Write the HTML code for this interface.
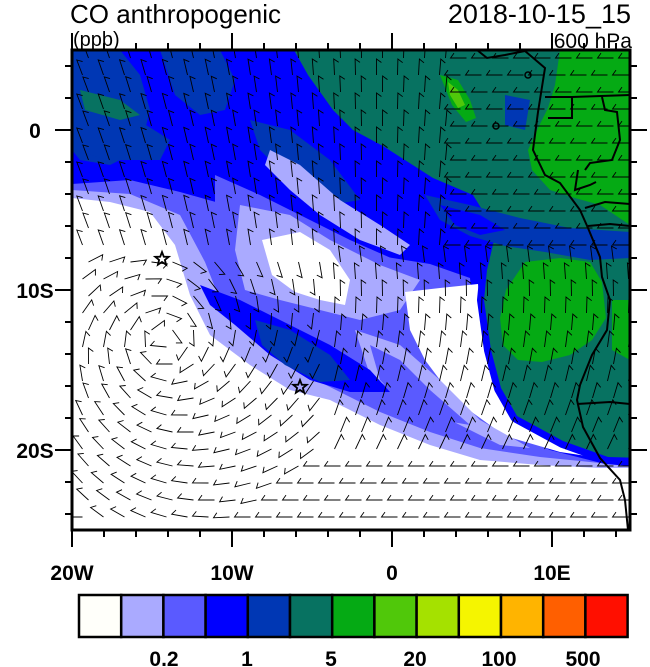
<!DOCTYPE html>
<html><head><meta charset="utf-8"><style>
body{margin:0;background:#fff;width:650px;height:667px;overflow:hidden}
svg{display:block}
text{font-family:"Liberation Sans",sans-serif}
</style></head><body>
<svg id="s" width="650" height="667" viewBox="0 0 650 667">
<defs><clipPath id="cp"><rect x="72" y="50" width="558" height="480"/></clipPath></defs>
<g clip-path="url(#cp)">
<rect x="72" y="50" width="558" height="480" fill="#fff"/>
<path fill="#aaaaff" d="M72,50 L630,50 L630,468 L600,468 L540,465 L480,460 L430,445 L380,425 L330,400 L290,390 L250,365 L210,335 L190,295 L175,245 L150,212 L110,202 L72,198Z"/>
<path fill="#5a5aff" d="M72,50 L630,50 L630,464 L600,463 L540,457 L480,448 L430,432 L380,412 L340,392 L300,372 L260,345 L222,305 L205,262 L180,215 L130,194 L72,190Z"/>
<path fill="#0000ff" d="M72,50 L630,50 L630,466 L605,464 L550,450 L500,428 L486,392 L476,350 L472,300 L470,278 L430,264 L380,256 L330,246 L280,226 L230,206 L180,192 L130,180 L72,184Z"/>
<path fill="#0037b4" d="M72,50 L120,50 L140,75 L150,110 L140,150 L110,165 L80,160 L72,150Z"/>
<path fill="#0037b4" d="M160,50 L220,50 L235,80 L225,110 L200,115 L175,95Z"/>
<path fill="#0037b4" d="M250,120 L290,130 L330,160 L360,200 L330,205 L290,180 L260,150Z"/>
<path fill="#aaaaff" d="M270,150 L300,165 L340,200 L380,225 L410,245 L400,255 L360,240 L320,215 L290,190 L265,165Z"/>
<path fill="#5a5aff" d="M215,175 L260,195 L300,215 L350,240 L400,262 L440,275 L430,300 L390,310 L340,300 L290,290 L240,285 L215,240Z"/>
<path fill="#aaaaff" d="M240,205 L290,215 L330,240 L380,265 L420,280 L400,310 L360,320 L320,310 L280,300 L245,290 L235,250Z"/>
<path fill="#fff" d="M262,240 L300,232 L330,250 L350,280 L345,305 L320,300 L295,292 L272,275Z"/>
<path fill="#fff" d="M405,292 L440,288 L478,284 L482,330 L494,378 L520,418 L570,444 L600,458 L560,452 L505,436 L455,400 L425,360 L410,330Z"/>
<path fill="#aaaaff" d="M355,330 L400,345 L440,380 L480,420 L530,448 L500,445 L450,420 L400,395 L370,375Z"/>
<path fill="#5a5aff" d="M370,345 L400,360 L430,390 L470,425 L440,420 L400,400 L380,380Z"/>
<path fill="#0000ff" d="M200,285 L240,300 L280,320 L330,345 L370,370 L390,392 L350,392 L310,380 L270,355 L235,325 L210,305Z"/>
<path fill="#0037b4" d="M255,320 L290,330 L330,355 L350,380 L320,382 L285,365 L262,345Z"/>
<path fill="#077261" stroke="#0000ff" stroke-width="14" paint-order="stroke" stroke-linejoin="round" d="M294,40 L294,50 L308,75 L333,110 L353,130 L383,146 L433,178 L473,195 L496,232 L487,270 L484,300 L491,350 L501,388 L517,416 L563,441 L608,457 L645,458 L645,40Z"/>
<path fill="#0037b4" d="M425,195 L470,205 L520,218 L570,228 L630,232 L630,258 L590,260 L545,252 L505,246 L470,236 L440,220Z"/>
<path fill="#0000ff" d="M440,205 L480,215 L505,230 L480,235 L455,225Z"/>
<path fill="#0037b4" d="M72,110 L130,115 L170,140 L160,160 L110,160 L72,150Z"/>
<path fill="#077261" d="M80,90 L120,100 L140,115 L120,120 L85,110Z"/>
<path fill="#0037b4" d="M505,95 L530,100 L525,130 L505,125Z"/>
<path fill="#05aa14" d="M560,50 L630,50 L630,225 L600,205 L575,198 L550,190 L532,170 L528,150 L538,128 L548,108 L555,85Z"/>
<path fill="#05aa14" d="M525,262 L560,258 L590,262 L602,282 L606,318 L592,340 L570,355 L542,362 L518,360 L503,345 L500,318 L506,290Z"/>
<path fill="#05aa14" d="M440,75 L458,80 L470,100 L476,118 L466,122 L452,105Z"/>
<path fill="#50c80a" d="M448,82 L458,90 L465,105 L458,108 L450,95Z"/>
<path fill="#05aa14" d="M612,300 L630,300 L630,360 L612,350Z"/>
<g fill="none" stroke="#000" stroke-width="2">
<path d="M477,50 L487,58 L505,55 L525,51 L545,68 L538,112 L533,150 L545,175 L560,183 L580,210 L588,228 L600,257 L602,277 L610,300 L607,330 L592,355 L580,385 L577,400 L583,427 L600,458 L620,480 L625,500 L628,530"/>
<path d="M545,97 L572,97 L572,118 L548,118"/>
<path d="M572,97 L630,95"/>
<path d="M602,97 L605,110 L617,112 L620,140 L612,160 L590,163 L585,170"/>
<path d="M578,170 L575,190 L590,185 L596,182"/>
<path d="M585,208 L605,202 L630,204"/>
<path d="M588,226 L610,224 L630,226"/>
<path d="M577,404 L610,402 L630,404"/>
</g>
<g fill="none" stroke="#000" stroke-width="1.5"><circle cx="528" cy="75" r="3"/><circle cx="496" cy="126" r="3"/></g>
<g id="barbs" stroke="#000" stroke-width="0.9" fill="none"></g>
<g fill="none" stroke="#000" stroke-width="1.8">
<path d="M0,-7 L1.8,-2.3 L6.7,-2.2 L2.9,0.9 L4.1,5.7 L0,3 L-4.1,5.7 L-2.9,0.9 L-6.7,-2.2 L-1.8,-2.3Z" transform="translate(162,259)"/>
<path d="M0,-7 L1.8,-2.3 L6.7,-2.2 L2.9,0.9 L4.1,5.7 L0,3 L-4.1,5.7 L-2.9,0.9 L-6.7,-2.2 L-1.8,-2.3Z" transform="translate(300,387)"/>
</g>
</g>
<rect x="72" y="50" width="558" height="480" fill="none" stroke="#000" stroke-width="3"/>
<g id="ticks" stroke="#000" stroke-width="2"></g>
<text x="70" y="23" font-size="26">CO anthropogenic</text>
<text x="631" y="23" font-size="27" text-anchor="end">2018-10-15_15</text>
<text x="73" y="46" font-size="20">(ppb)</text>
<text x="632" y="48" font-size="21" text-anchor="end">600 hPa</text>
<g font-size="21" font-weight="bold" text-anchor="middle">
<text x="35" y="138">0</text><text x="35" y="298">10S</text><text x="35" y="458">20S</text>
<text x="72" y="580">20W</text><text x="232" y="580">10W</text><text x="392" y="580">0</text><text x="552" y="580">10E</text>
<text x="164" y="666">0.2</text><text x="247" y="666">1</text><text x="331" y="666">5</text><text x="415" y="666">20</text><text x="499" y="666">100</text><text x="583" y="666">500</text>
</g>
<g id="cb" stroke="#000" stroke-width="2.5"></g>
</svg>
<script>
var NS="http://www.w3.org/2000/svg";
function el(p,t,a){var e=document.createElementNS(NS,t);for(var k in a)e.setAttribute(k,a[k]);p.appendChild(e);return e;}
var cols=["#fffffa","#aaaaff","#5a5aff","#0000ff","#0037b4","#077261","#05aa14","#50c80a","#a5e100","#f5f500","#ffb400","#ff5f00","#ff0f00"];
var cb=document.getElementById("cb");
for(var i=0;i<13;i++){el(cb,"rect",{x:79+i*42.2,y:595,width:42.2,height:42,fill:cols[i]});}
var tk=document.getElementById("ticks");
function ln(x1,y1,x2,y2){el(tk,"line",{x1:x1,y1:y1,x2:x2,y2:y2});}
for(var x=72;x<=630;x+=32){var maj=((x-72)%160==0);ln(x,530,x,530+(maj?17:7));ln(x,50,x,50-(maj?17:7));}
for(var y=66;y<=530;y+=32){var maj=((y-130)%160==0);ln(72,y,72-(maj?17:7),y);ln(630,y,630+(maj?17:7),y);}
var bb=document.getElementById("barbs");
for(var y=58;y<530;y+=17){for(var x=80;x<630;x+=21){
  var xx=x+((y/17)%2)*6;
  var dx=xx-165,dy=y-340,r=Math.sqrt(dx*dx+dy*dy);
  var ang;
  if(y<250&&xx<460){ang=-Math.PI*0.62+ (xx-72)/400*0.5;}
  else if(y<250){ang=Math.PI;}
  else if(r<190&&xx<330){ang=Math.atan2(dx,-dy)+0.3;}
  else if(y>455){ang=Math.PI;}
  else{ang=-Math.PI*0.55+ (y-250)/200*0.6;}
  var L=16,ex=xx+L*Math.cos(ang),ey=y+L*Math.sin(ang);
  var fx=ex+6*Math.cos(ang+2.2),fy=ey+6*Math.sin(ang+2.2);
  el(bb,"path",{d:"M"+xx.toFixed(1)+","+y+" L"+ex.toFixed(1)+","+ey.toFixed(1)+" L"+fx.toFixed(1)+","+fy.toFixed(1)});
}}
</script>
</body></html>
